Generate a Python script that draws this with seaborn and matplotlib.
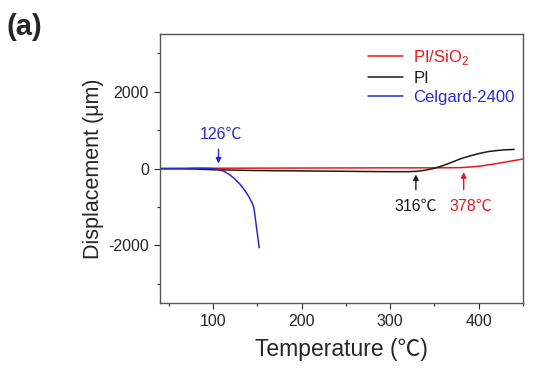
import numpy as np
import pandas as pd
import seaborn as sns
from matplotlib import pyplot as plt
from matplotlib.ticker import MultipleLocator

# ---------------- data ----------------#
temp_pisio2 = [40, 100, 200, 300, 350, 380, 400, 420, 440, 450]
disp_pisio2 = [0, 10, 15, 20, 20, 25, 60, 130, 210, 250]

temp_pi = [40, 60, 80, 100, 150, 200, 250, 300, 320, 330, 340, 350, 360, 370, 380, 390, 400, 410, 420, 430, 440]
disp_pi = [0, 0, -10, -30, -50, -60, -70, -80, -80, -70, -40, 10, 80, 170, 260, 330, 390, 440, 470, 490, 500]

temp_celgard = [40, 60, 80, 90, 100, 106, 112, 118, 124, 130, 136, 140, 144, 146, 149, 152]
disp_celgard = [0, 0, 10, 10, 0, -20, -70, -150, -260, -400, -575, -720, -890, -1020, -1540, -2060]

series_names = ['PI/SiO$_2$', 'PI', 'Celgard-2400']
series_colors = ['#e8191c', '#1a1a1a', '#2a2ad2']

marks = [('126℃', 106, 109), ('316℃', 329, 329), ('378℃', 383, 391)]

sns.set_style('ticks')
plt.rcParams['font.family'] = ['Liberation Sans', 'Noto Sans CJK SC', 'DejaVu Sans']
plt.rcParams['mathtext.fontset'] = 'custom'
plt.rcParams['mathtext.rm'] = 'Liberation Sans'
plt.rcParams['axes.unicode_minus'] = False

fig = plt.figure(figsize=(5.54, 3.71), dpi=100)
ax = fig.add_axes([0.289, 0.183, 0.655, 0.725])

temps = [temp_pisio2, temp_pi, temp_celgard]
disps = [disp_pisio2, disp_pi, disp_celgard]
for name, col, t, d in zip(series_names, series_colors, temps, disps):
    df = pd.DataFrame({'T': t, 'D': d})
    sns.lineplot(data=df, x='T', y='D', ax=ax, color=col, lw=1.1, label=name,
                 sort=False, estimator=None)

ax.set_xlim(40, 450)
ax.set_ylim(-3500, 3500)
ax.xaxis.set_major_locator(MultipleLocator(100))
ax.xaxis.set_minor_locator(MultipleLocator(50))
ax.yaxis.set_major_locator(MultipleLocator(2000))
ax.yaxis.set_minor_locator(MultipleLocator(1000))
ax.tick_params(which='major', length=4, width=0.8, labelsize=11.5, direction='out', pad=4)
ax.tick_params(which='minor', length=2.5, width=0.8, direction='out')
for s in ax.spines.values():
    s.set_color('#555555')
    s.set_linewidth(1.0)

ax.set_xlabel('Temperature (℃)', fontsize=16.5, labelpad=6)
ax.set_ylabel('Displacement (μm)', fontsize=15.5, labelpad=3)

leg = ax.legend(loc='upper left', frameon=False, fontsize=12, handlelength=2.1,
                handletextpad=0.6, labelspacing=0.25, bbox_to_anchor=(0.555, 0.975),
                borderaxespad=0.0)
for txt, col in zip(leg.get_texts(), series_colors):
    txt.set_color(col)

# annotation arrows
lab, xa, xt = marks[0]
ax.annotate('', xy=(xa, 60), xytext=(xa, 580),
            arrowprops=dict(arrowstyle='-|>', color=series_colors[2], lw=1, mutation_scale=8))
ax.text(xt, 900, lab, color=series_colors[2], fontsize=11.5, ha='center', va='center')

lab, xa, xt = marks[1]
ax.annotate('', xy=(xa, -80), xytext=(xa, -620),
            arrowprops=dict(arrowstyle='-|>', color=series_colors[1], lw=1, mutation_scale=8))
ax.text(xt, -980, lab, color=series_colors[1], fontsize=11.5, ha='center', va='center')

lab, xa, xt = marks[2]
ax.annotate('', xy=(xa, -20), xytext=(xa, -620),
            arrowprops=dict(arrowstyle='-|>', color=series_colors[0], lw=1, mutation_scale=8))
ax.text(xt, -980, lab, color=series_colors[0], fontsize=11.5, ha='center', va='center')

fig.text(0.012, 0.965, '(a)', fontsize=21, fontweight='bold', va='top')

plt.savefig('out.png', dpi=100)
